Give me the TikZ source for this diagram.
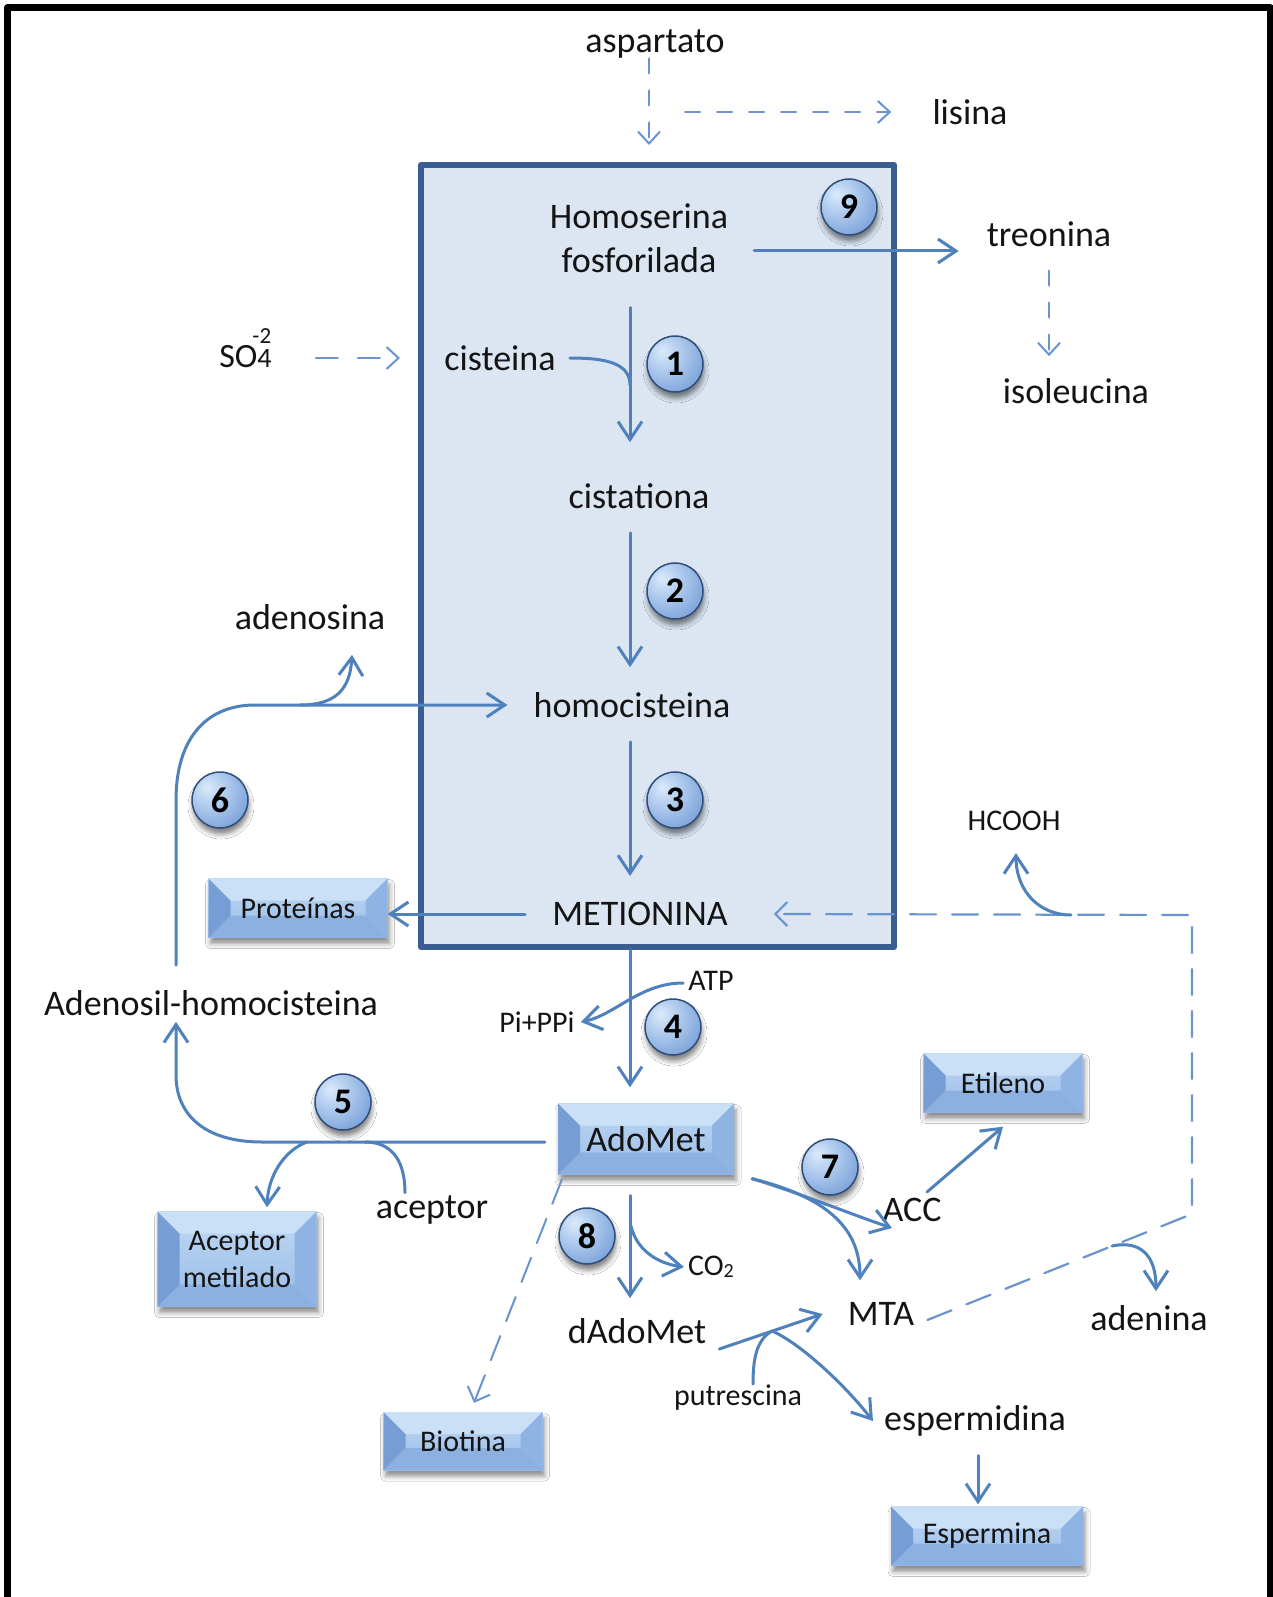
\documentclass[tikz,border=0pt]{standalone}
\usepackage{fontspec}
\setmainfont{Carlito}
\usetikzlibrary{arrows.meta,shadows.blur}
\definecolor{arrc}{RGB}{79,129,189}
\definecolor{dshc}{RGB}{105,148,206}
\definecolor{mfill}{RGB}{220,230,242}
\definecolor{mline}{RGB}{58,94,145}
\definecolor{bvT}{RGB}{192,216,244}
\definecolor{bvB}{RGB}{152,188,231}
\definecolor{bvL}{RGB}{118,158,213}
\definecolor{bvR}{RGB}{143,179,226}
\definecolor{bvU}{RGB}{202,224,247}
\definecolor{bvD}{RGB}{140,177,225}
\definecolor{txt}{RGB}{20,20,20}
\definecolor{bline}{RGB}{48,78,122}
\pgfdeclareradialshading{badgeball}{\pgfpoint{-12bp}{12bp}}{rgb(0bp)=(0.86,0.92,0.98); rgb(16bp)=(0.68,0.79,0.93); rgb(36bp)=(0.48,0.63,0.85); rgb(56bp)=(0.34,0.50,0.75); rgb(80bp)=(0.34,0.50,0.75)}
\newcommand\bevw{22pt}
\tikzset{
  lbl/.style={inner sep=0pt, text=txt, font=\fontsize{36}{44}\selectfont},
  sml/.style={inner sep=0pt, text=txt, font=\fontsize{30}{36}\selectfont},
  arw/.style={draw=arrc, line width=3pt, -{Straight Barb[length=18pt,width=24pt]}},
  nh/.style={draw=arrc, line width=3pt},
  dar/.style={draw=dshc, line width=2pt, dash pattern=on 15pt off 17pt, -{Straight Barb[length=12pt,width=22pt]}},
  ldar/.style={draw=dshc, line width=2.2pt, dash pattern=on 26pt off 16pt, -{Straight Barb[length=12pt,width=24pt]}},
  badge/.style={circle, minimum size=56pt, inner sep=0pt, shading=badgeball, draw=bline, line width=1.5pt,
    font=\fontsize{36}{36}\selectfont\bfseries, text=black,
    blur shadow={shadow xshift=1pt, shadow yshift=-6pt, shadow blur radius=5pt, shadow opacity=50}},
  bev/.style={inner sep=0pt, align=center, text=txt, font=\fontsize{30}{37}\selectfont,
    top color=bvT, bottom color=bvB,
    blur shadow={shadow xshift=2pt, shadow yshift=-6pt, shadow blur radius=5pt, shadow opacity=45},
    path picture={
      \fill[bvU] (path picture bounding box.north west) -- (path picture bounding box.north east) -- ([xshift=-\bevw,yshift=-\bevw]path picture bounding box.north east) -- ([xshift=\bevw,yshift=-\bevw]path picture bounding box.north west) -- cycle;
      \fill[bvD] (path picture bounding box.south west) -- (path picture bounding box.south east) -- ([xshift=-\bevw,yshift=\bevw]path picture bounding box.south east) -- ([xshift=\bevw,yshift=\bevw]path picture bounding box.south west) -- cycle;
      \fill[bvL] (path picture bounding box.north west) -- ([xshift=\bevw,yshift=-\bevw]path picture bounding box.north west) -- ([xshift=\bevw,yshift=\bevw]path picture bounding box.south west) -- (path picture bounding box.south west) -- cycle;
      \fill[bvR] (path picture bounding box.north east) -- ([xshift=-\bevw,yshift=-\bevw]path picture bounding box.north east) -- ([xshift=-\bevw,yshift=\bevw]path picture bounding box.south east) -- (path picture bounding box.south east) -- cycle;
    }},
}
\begin{document}
\begin{tikzpicture}[x=1pt,y=-1pt,line cap=round,line join=round]
\useasboundingbox (0,0) rectangle (1272,1597);
\fill[white] (0,0) rectangle (1272,1597);
% outer frame
\draw[line width=7pt,line cap=butt] (7.5,1600) -- (7.5,8) -- (1270,8) -- (1270,1600);

% main box
\node[draw=mline, fill=mfill, line width=6pt, minimum width=473pt, minimum height=782pt, inner sep=0pt] (mbox) at (657.5,556) {};

% labels
\node[lbl] (asp) at (655,44) {aspartato};
\node[lbl] (lis) at (970,112) {lisina};
\node[lbl, align=center] (hom) at (639,238) {Homoserina\\fosforilada};
\node[lbl] (tre) at (1049,234) {treonina};
\node[lbl] (iso) at (1076,391) {isoleucina};
\node[inner sep=0pt, text=txt, font=\fontsize{34}{34}\selectfont] (so4) at (245.5,348) {SO\kern-5pt\rlap{\raisebox{24pt}{\fontsize{23}{23}\selectfont -2}}\kern5pt{\fontsize{28}{28}\selectfont 4}};
\node[lbl] (cis) at (500,358) {cisteina};
\node[lbl] (cist) at (639,496) {cistationa};
\node[lbl] (hcys) at (632,705) {homocisteina};
\node[lbl] (met) at (640,914) {METIONINA};
\node[lbl] (adn) at (310,617) {adenosina};
\node[lbl] (adh) at (211,1003) {Adenosil-homocisteina};
\node[sml] (atp) at (711,981) {ATP};
\node[sml] (pip) at (537,1022) {Pi+PPi};
\node[lbl] (acep) at (432,1210) {aceptor};
\node[sml] (co2) at (711,1267) {CO\raisebox{-2pt}{\fontsize{20}{20}\selectfont 2}};
\node[lbl] (dado) at (637,1331) {dAdoMet};
\node[lbl] (acc) at (912,1210) {ACC};
\node[lbl] (mta) at (881,1314) {MTA};
\node[sml] (put) at (738,1398) {putrescina};
\node[lbl] (spd) at (975,1421) {espermidina};
\node[sml] (hco) at (1014,821) {HCOOH};
\node[lbl] (ade) at (1149,1318) {adenina};

% boxes
\node[bev, minimum width=179pt, minimum height=59pt] (prot) at (298,908) {Proteínas};
\node[bev, minimum width=176pt, minimum height=71pt, font=\fontsize{36}{40}\selectfont] (ado) at (646,1139) {AdoMet};
\node[bev, minimum width=159pt, minimum height=95pt] (acm) at (237,1259) {Aceptor\\metilado};
\node[bev, minimum width=159pt, minimum height=58pt] (bio) at (463,1441) {Biotina};
\node[bev, minimum width=159pt, minimum height=59pt] (eti) at (1003,1083) {Etileno};
\node[bev, minimum width=192pt, minimum height=59pt] (esp) at (987,1536) {Espermina};

% badges
\node[badge] (b1) at (675,364) {1};
\node[badge] (b2) at (675,591) {2};
\node[badge] (b3) at (675,800) {3};
\node[badge] (b4) at (673,1027) {4};
\node[badge] (b5) at (343,1102) {5};
\node[badge] (b6) at (220,800) {6};
\node[badge] (b7) at (830,1167) {7};
\node[badge] (b8) at (587,1236) {8};
\node[badge] (b9) at (849,207) {9};

% coordinates
\coordinate (vx) at (630,0);
\coordinate (aspA) at ([xshift=-6pt]asp.south);
\coordinate (aspB) at (649,145);
\coordinate (lisA) at (685,112);
\coordinate (h9) at (754,251);
\coordinate (so4a) at ([xshift=44pt,yshift=-10pt]so4.east);
\coordinate (j6) at (300,705);
\coordinate (l5) at ([xshift=-13pt,yshift=-3pt]ado.west);
\coordinate (j5a) at (307,1142);
\coordinate (j5b) at (365,1142);
\coordinate (s7) at ([xshift=18pt,yshift=-4pt]ado.south east);
\coordinate (j8) at (772,1331);
\coordinate (co2j) at (631,1226);
\coordinate (c1) at (1192,1214);
\coordinate (c2) at (1192,915);
\coordinate (jh) at (1071,915);
\coordinate (ja) at (1112,1246);

% dashed top
\draw[dar] (aspA) -- (aspB);
\draw[dar, shorten >=41pt] (lisA) -- (lis.west);
\draw[dar, shorten <=24pt, shorten >=22pt] (tre.south) -- (tre.south |- iso.north);
\draw[dar, dash pattern=on 22pt off 20pt, shorten >=18pt] (so4a) -- (so4a -| mbox.west);

% 9
\draw[arw, shorten >=28pt] (h9) -- (h9 -| tre.west);

% main axis
\draw[nh] ([xshift=14pt]cis.east) .. controls (603,358) and (630,362) .. (630,385);
\draw[arw, shorten <=35pt, shorten >=41pt] (hom.south -| vx) -- (cist.north -| vx);
\draw[arw, shorten <=24pt, shorten >=25pt] (cist.south -| vx) -- (hcys.north -| vx);
\draw[arw, shorten <=24pt, shorten >=26pt] (hcys.south -| vx) -- (met.north -| vx);
\draw[arw, shorten >=16pt] (mbox.south -| vx) -- (ado.north -| vx);
\draw[arw, shorten <=21pt, shorten >=20pt] (ado.south -| vx) -- (dado.north -| vx);

% metionina -> proteinas
\draw[arw, shorten <=27pt] (met.west) -- (met.west -| prot.east);

% ATP
\draw[arw] ([xshift=-5pt,yshift=-2pt]atp.west) .. controls (640,983) and (615,1015) .. ([xshift=6pt]pip.east);

% 6
\draw[arw, shorten >=26pt] ([xshift=-35pt,yshift=25pt]adh.north) -- (176,800) .. controls (176,740) and (205,705) .. (255,705) -- (hcys.west);
\draw[arw] (j6) .. controls (335,705) and (350,690) .. ([xshift=42pt,yshift=-25pt]adn.south);

% 5
\draw[arw] (l5) -- (262,1142) .. controls (205,1142) and (176,1115) .. (176,1075) -- ([xshift=-35pt,yshift=-6pt]adh.south);
\draw[arw] (j5a) .. controls (285,1150) and (268,1175) .. ([xshift=30pt,yshift=4pt]acm.north);
\draw[nh] ([xshift=-27pt,yshift=3pt]acep.north) .. controls (405,1165) and (395,1142) .. (j5b);

% biotina
\draw[ldar, line width=2pt] ([xshift=4pt,yshift=-5pt]ado.south west) -- ([xshift=11pt,yshift=9pt]bio.north);

% 8
\draw[arw] (co2j) .. controls (636,1248) and (655,1263) .. ([xshift=-4pt]co2.west);

% 7
\draw[arw] (s7) .. controls (800,1193) and (850,1214) .. ([xshift=-20pt,yshift=-6pt]acc.south);
\draw[arw] (s7) .. controls (830,1198) and (860,1230) .. ([xshift=-21pt,yshift=22pt]mta.north);
\draw[arw] ([xshift=15pt,yshift=6pt]acc.north) -- ([yshift=-14pt]eti.south);

% dAdoMet
\draw[arw] ([xshift=13pt,yshift=-18pt]dado.east) -- ([xshift=-25pt]mta.west);
\draw[arw] (j8) .. controls (800,1343) and (845,1385) .. ([xshift=-11pt]spd.west);
\draw[nh] ([xshift=15pt,yshift=1pt]put.north) .. controls (753,1360) and (756,1340) .. (j8);
\draw[arw, shorten <=19pt, shorten >=2pt] ([xshift=3pt]spd.south) -- ([xshift=-9pt]esp.north);

% MTA recycle
\draw[ldar] ([xshift=13pt,yshift=-6pt]mta.east) -- (c1) -- (c2) -- ([xshift=46pt]met.east);
\draw[arw] (jh) .. controls (1040,915) and (1016,892) .. ([xshift=2pt,yshift=-22pt]hco.south);
\draw[arw] (ja) .. controls (1140,1240) and (1156,1255) .. ([xshift=7pt,yshift=14pt]ade.north);
\end{tikzpicture}
\end{document}
